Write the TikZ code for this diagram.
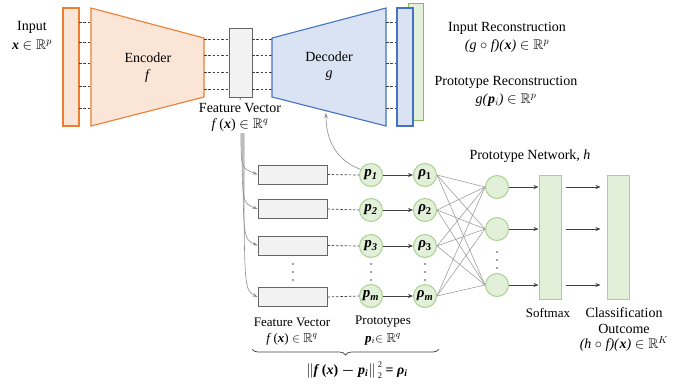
\documentclass[tikz,border=0pt]{standalone}
\usepackage{amsmath,amssymb}
\usepackage{fontspec}
\setmainfont{Liberation Serif}
\usetikzlibrary{arrows.meta,decorations.pathreplacing}
\definecolor{oline}{HTML}{ED7D31}
\definecolor{ofill}{HTML}{FBE5D6}
\definecolor{bline}{HTML}{4472C4}
\definecolor{bfill}{HTML}{DAE3F3}
\definecolor{gline}{HTML}{70AD47}
\definecolor{glight}{HTML}{A9D18E}
\definecolor{gfill}{HTML}{E2F0D9}
\definecolor{dk}{HTML}{404040}
\newcommand\bvx{\textbf{\textit{x}}}
\newcommand\bvp{\textbf{\textit{p}}}
\newcommand\sqtwo{\rlap{\raisebox{7pt}{\fontsize{8.5}{9}\selectfont 2}}\raisebox{-4.5pt}{\fontsize{8.5}{9}\selectfont 2}}
\begin{document}
\begin{tikzpicture}[x=1pt,y=-1pt,
  lbl/.style={font=\fontsize{14}{16}\selectfont, inner sep=0pt, anchor=center},
  slbl/.style={font=\fontsize{13}{15}\selectfont, inner sep=0pt, anchor=center},
  orect/.style={draw=oline, fill=ofill, line width=1.1pt, minimum width=16pt, inner sep=0pt},
  brect/.style={draw=bline, fill=bfill, line width=1.1pt, minimum width=16pt, inner sep=0pt},
  grect/.style={draw=gline, fill=gfill, line width=1pt, inner sep=0pt},
  frect/.style={draw=black!60, fill=black!5, line width=0.8pt, inner sep=0pt},
  circ/.style={circle, draw=glight, fill=gfill, line width=1pt, minimum size=23pt, inner sep=0pt, font=\fontsize{15}{17}\selectfont},
  dsh/.style={draw=dk, dashed, dash pattern=on 2.5pt off 1.8pt, line width=0.7pt},
  arr/.style={draw=dk, line width=0.7pt, -{Stealth[length=5pt,width=4pt]}},
  fan/.style={draw=black!45, line width=0.6pt, -{Stealth[length=5pt,width=3.5pt]}},
  fc/.style={draw=black!40, line width=0.55pt},
]
\useasboundingbox (0,0) rectangle (681,384);

% ---------- top: autoencoder ----------
\node[orect, minimum height=118pt] (inp) at (71,67) {};
\draw[draw=oline, fill=ofill, line width=1.1pt] (91,8) -- (204,38) -- (204,97) -- (91,126) -- cycle;
\foreach \y in {22,42,63,86,108} \draw[dsh] (79,\y) -- (91,\y);

\node[frect, minimum width=23pt, minimum height=69pt] (fv) at (240.5,62.5) {};
\foreach \y in {39,55,72,89} {\draw[dsh] (204,\y) -- (229,\y); \draw[dsh] (252,\y) -- (272,\y);}

\draw[draw=bline, fill=bfill, line width=1.1pt] (272,38) -- (386,8) -- (386,126) -- (272,97) -- cycle;
\foreach \y in {22,42,63,86,108} \draw[dsh] (386,\y) -- (397,\y);

\node[grect, draw=gline!85, minimum width=15pt, minimum height=117pt] (prec) at (415.5,61.5) {};
\node[brect, minimum height=118pt] (irec) at (405,67) {};

\node[lbl] (t1) at (32,27) {Input};
\node[lbl] (t2) at (32,45) {\bvx{} $\in\mathbb{R}^p$};
\node[lbl] (t3) at (148,58) {Encoder};
\node[lbl] (t4) at (148,76) {\textit{f}};
\node[lbl] (t5) at (329,57) {Decoder};
\node[lbl] (t6) at (329,76) {\textit{g}};
\coordinate (fvb) at (240,100);
\draw[draw=black!60, line width=0.7pt] (fv.south) -- (fvb);
\node[lbl] (t7) at (240,108) {Feature Vector};
\node[lbl] (t8) at (240,125) {\textit{f}\,(\bvx) $\in\mathbb{R}^q$};
\node[lbl] (t9) at (507,28) {Input Reconstruction};
\node[lbl] (t10) at (507,46) {\textit{(g} $\circ$ \textit{f)(}\bvx\textit{)} $\in\mathbb{R}^p$};
\node[lbl] (t11) at (506,82) {Prototype Reconstruction};
\node[lbl] (t12) at (506,100) {\textit{g(}\bvp$_{i}$\textit{)} $\in\mathbb{R}^p$};

% ---------- bottom: prototype network ----------
\node[frect, minimum width=69pt, minimum height=19pt] (r1) at (292.5,174.5) {};
\node[frect, minimum width=69pt, minimum height=19pt] (r2) at (292.5,209) {};
\node[frect, minimum width=69pt, minimum height=19pt] (r3) at (292.5,245.5) {};
\node[frect, minimum width=69pt, minimum height=19pt] (r4) at (292.5,297) {};

\node[circ] (p1) at (371,175) {\bvp\textsubscript{\textbf{\textit{1}}}};
\node[circ] (p2) at (371,210) {\bvp\textsubscript{\textbf{\textit{2}}}};
\node[circ] (p3) at (371,246) {\bvp\textsubscript{\textbf{\textit{3}}}};
\node[circ] (p4) at (371,296) {\bvp\textsubscript{\textbf{\textit{m}}}};
\node[circ] (q1) at (425,175) {\textbf{\textit{ρ}}\textsubscript{\textbf{1}}};
\node[circ] (q2) at (425,210) {\textbf{\textit{ρ}}\textsubscript{\textbf{2}}};
\node[circ] (q3) at (425,246) {\textbf{\textit{ρ}}\textsubscript{\textbf{3}}};
\node[circ] (q4) at (425,296) {\textbf{\textit{ρ}}\textsubscript{\textbf{\textit{m}}}};

\node[circ] (h1) at (497,187) {};
\node[circ] (h2) at (497,229) {};
\node[circ] (h3) at (497,285) {};

\node[grect, draw=glight, minimum width=22pt, minimum height=124pt] (sm) at (550,237) {};
\node[grect, draw=glight, minimum width=22pt, minimum height=124pt] (out) at (618,237) {};

% dots
\foreach \x in {293,371,425} \foreach \y in {264,272,280} \fill[dk] (\x,\y) circle (0.9pt);
\foreach \y in {252,260,268} \fill[dk] (497,\y) circle (0.9pt);

% fan from feature vector
\draw[fan] (241,133) .. controls (241,168) .. (r1.west);
\draw[fan] (242,133) .. controls (242,203) .. (r2.west);
\draw[fan] (243,133) .. controls (243,239) .. (r3.west);
\draw[fan] (244,133) .. controls (244,290) .. (r4.west);

% dashed rect -> prototypes
\draw[dsh] (r1.east) -- (p1.west);
\draw[dsh] (r2.east) -- (p2.west);
\draw[dsh] (r3.east) -- (p3.west);
\draw[dsh] (r4.east) -- (p4.west);

% prototypes -> distances
\draw[arr] (p1) -- (q1);
\draw[arr] (p2) -- (q2);
\draw[arr] (p3) -- (q3);
\draw[arr] (p4) -- (q4);

% fully connected
\foreach \a in {q1,q2,q3,q4} \foreach \b in {h1,h2,h3} \draw[fc] (\a.east) -- (\b.west);

% hidden -> softmax -> outcome
\draw[arr] (h1.east) -- (sm.west |- h1.east);
\draw[arr] (h2.east) -- (sm.west |- h2.east);
\draw[arr] (h3.east) -- (sm.west |- h3.east);
\draw[arr, shorten <=4pt, shorten >=6pt] (sm.east |- h1.east) -- (out.west |- h1.east);
\draw[arr, shorten <=4pt, shorten >=6pt] (sm.east |- h2.east) -- (out.west |- h2.east);
\draw[arr, shorten <=4pt, shorten >=6pt] (sm.east |- h3.east) -- (out.west |- h3.east);

% prototype -> decoder
\coordinate (dectip) at (326,113);
\draw[fan] (p1.152) .. controls (336,160) and (326,140) .. (dectip);

% labels
\node[lbl] (t13) at (530,156) {Prototype Network, \textit{h}};
\node[slbl] (t14) at (548,313) {Softmax};
\node[lbl] (t15) at (624,313) {Classification};
\node[lbl] (t16) at (624,329) {Outcome};
\node[lbl] (t17) at (624,344) {\textit{(h} $\circ$ \textit{f)(}\bvx\textit{)} $\in\mathbb{R}^K$};
\node[slbl] (t18) at (292,322) {Feature Vector};
\node[slbl] (t19) at (292,339) {\textit{f}\,(\bvx) $\in\mathbb{R}^q$};
\node[slbl] (t20) at (383,322) {Prototypes};
\node[slbl] (t21) at (383,339) {\bvp$_{i}$$\in\mathbb{R}^q$};
\draw[draw=dk, line width=0.7pt, decorate, decoration={brace, amplitude=6pt, mirror}] (252,349) -- (439,349);
\node[lbl] (t22) at (357,370) {$\|$\textbf{\textit{f}\,(\textit{x}) $\boldsymbol{-}$ \textit{p}\textsubscript{\textit{i}}}$\|$\,\sqtwo{} \textbf{= \textit{ρ}\textsubscript{\textit{i}}}};
\end{tikzpicture}
\end{document}
